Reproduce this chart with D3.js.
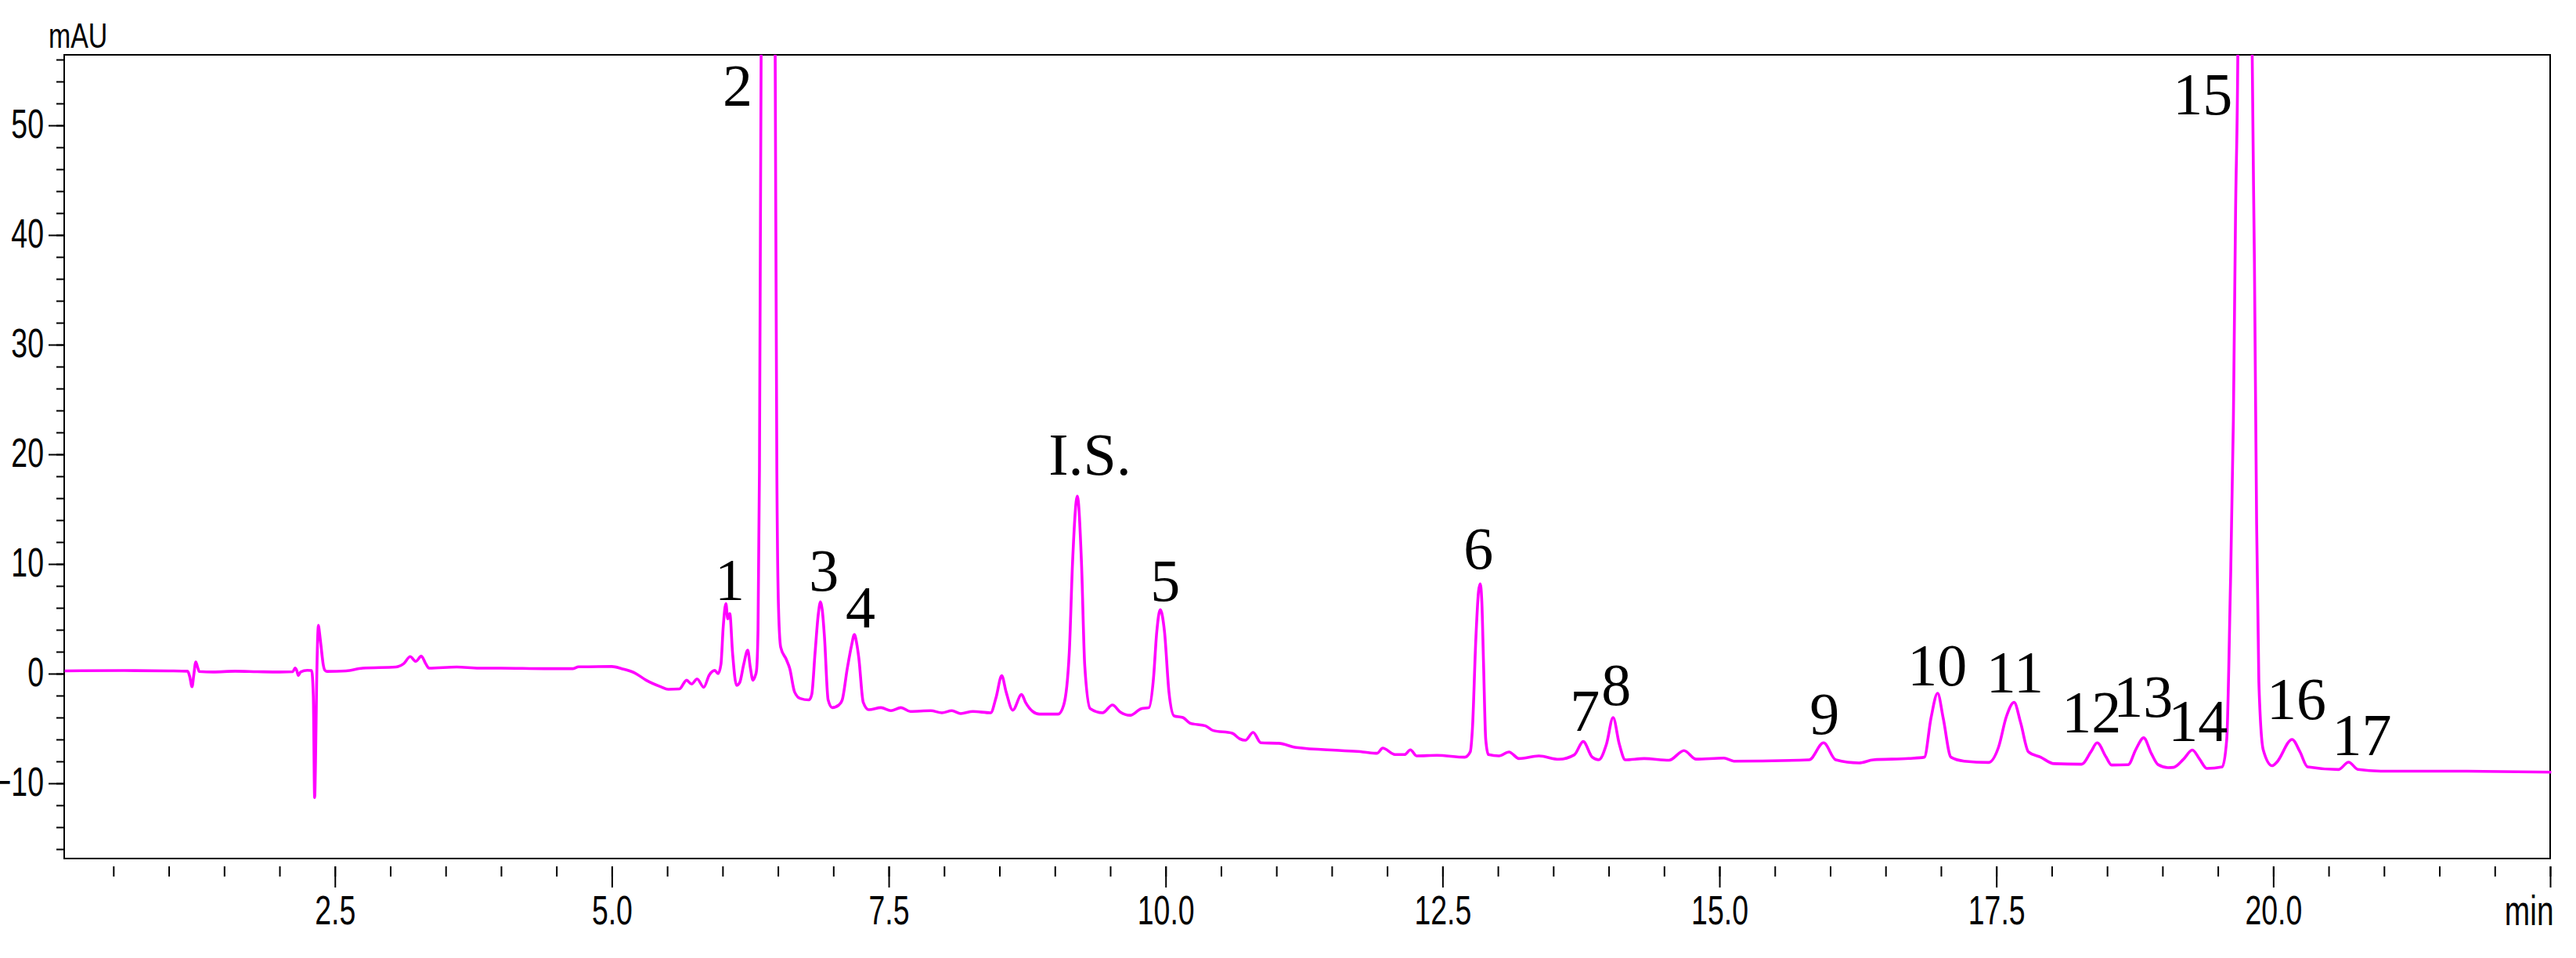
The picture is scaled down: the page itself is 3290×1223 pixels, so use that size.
<!DOCTYPE html>
<html><head><meta charset="utf-8">
<script src="https://cdn.jsdelivr.net/npm/d3@7"></script>
<style>
html,body{margin:0;padding:0;background:#fff;}
svg{display:block;}
.ax text{font-family:"Liberation Sans",Arial,sans-serif;font-size:52px;fill:#000;}
.ax line{stroke:#000;stroke-width:2px;}
.ax path{display:none;}
.pl{font-family:"Liberation Serif","Times New Roman",serif;font-size:76px;fill:#000;}
</style></head>
<body>
<svg id="c" width="3290" height="1223"></svg>
<script>
// retention time (min)
const times = [0.06,0.60,1.00,1.17,1.19,1.21,1.225,1.244,1.26,1.275,1.40,1.60,1.80,2.00,2.12,2.14,2.155,2.17,2.19,2.25,2.29,2.305,2.317,2.325,2.335,2.345,2.352,2.36,2.375,2.395,2.41,2.43,2.60,2.75,3.05,3.12,3.18,3.23,3.28,3.32,3.35,3.60,3.80,4.00,4.39,4.65,4.70,5.00,5.09,5.21,5.31,5.44,5.51,5.61,5.675,5.72,5.77,5.83,5.88,5.93,5.96,5.985,6.006,6.03,6.047,6.065,6.09,6.126,6.154,6.19,6.227,6.25,6.274,6.295,6.306,6.32,6.333,6.348,6.36,6.41,6.46,6.475,6.49,6.505,6.525,6.575,6.606,6.65,6.70,6.78,6.805,6.835,6.865,6.884,6.90,6.92,6.953,6.99,7.05,7.08,7.126,7.165,7.19,7.21,7.23,7.27,7.32,7.43,7.52,7.61,7.695,7.88,7.98,8.07,8.15,8.26,8.42,8.47,8.52,8.56,8.62,8.70,8.735,8.80,8.86,9.03,9.08,9.13,9.16,9.203,9.24,9.27,9.32,9.43,9.52,9.59,9.68,9.78,9.85,9.89,9.92,9.951,9.99,10.03,10.077,10.156,10.22,10.36,10.43,10.60,10.67,10.72,10.79,10.86,11.02,11.18,11.59,11.78,11.91,11.96,12.07,12.157,12.21,12.265,12.45,12.70,12.75,12.77,12.80,12.825,12.84,12.855,12.87,12.89,12.914,13.01,13.10,13.19,13.37,13.55,13.69,13.77,13.85,13.91,13.98,14.04,14.096,14.15,14.32,14.545,14.68,14.79,15.04,15.13,15.81,15.94,16.05,16.26,16.39,16.71,16.85,16.91,16.97,17.02,17.09,17.21,17.43,17.52,17.59,17.66,17.72,17.79,17.90,18.02,18.27,18.355,18.41,18.49,18.54,18.69,18.76,18.83,18.90,18.96,19.05,19.10,19.19,19.27,19.335,19.40,19.54,19.58,19.61,19.64,19.66,19.68,19.70,19.745,19.79,19.81,19.83,19.85,19.87,19.91,19.99,20.03,20.17,20.24,20.31,20.59,20.68,20.765,20.97,21.75,22.51];
// absorbance (mAU)
const signal = [0.25,0.28,0.25,0.22,-0.3,-1.2,-0.2,1.07,0.6,0.2,0.15,0.22,0.18,0.15,0.18,0.52,0.3,-0.17,0.15,0.3,0.28,-2,-11.3,-8,-1,3.5,4.4,3.8,2.5,0.8,0.3,0.2,0.25,0.5,0.6,0.9,1.55,1.12,1.6,0.9,0.5,0.6,0.5,0.5,0.45,0.45,0.62,0.65,0.45,0.05,-0.6,-1.19,-1.43,-1.4,-0.6,-0.95,-0.48,-1.24,-0.12,0.29,0.0,0.83,4.3,6.38,5.0,5.48,1.9,-1.07,-0.83,0.8,2.14,0.6,-0.6,-0.2,0.24,4,18.6,56.4,95,250,95,56.4,18.6,6,2.4,1.3,0.48,-1.67,-2.26,-2.4,-1.9,1.9,5.5,6.55,5.8,3.33,-2.4,-3.1,-2.86,-2.4,0.48,2.6,3.57,2.8,1.43,-2.62,-3.29,-3.1,-3.38,-3.1,-3.45,-3.38,-3.57,-3.38,-3.64,-3.45,-3.57,-2.14,-0.19,-1.67,-3.33,-1.9,-2.62,-3.45,-3.69,-3.69,-2.86,1.9,10.2,16.2,10.2,0.71,-3.2,-3.57,-2.86,-3.5,-3.8,-3.2,-3.1,-0.48,3.81,5.83,3.81,-1.67,-3.86,-4.0,-4.52,-4.76,-5.19,-5.43,-5.95,-6.07,-5.36,-6.31,-6.35,-6.74,-7.02,-7.14,-7.26,-6.79,-7.38,-7.38,-6.95,-7.5,-7.45,-7.62,-7.14,-5,3,7.5,8.2,6.5,1,-6,-7.38,-7.5,-7.14,-7.74,-7.5,-7.81,-7.4,-6.19,-7.6,-7.86,-6.43,-4.0,-6.43,-7.86,-7.74,-7.9,-7.02,-7.8,-7.7,-7.98,-7.86,-6.31,-7.86,-8.14,-7.86,-7.74,-7.62,-4.05,-1.79,-4.05,-7.62,-7.98,-8.1,-6.7,-3.93,-2.62,-4.5,-7.14,-7.62,-8.21,-8.26,-7.1,-6.31,-7.6,-8.33,-8.31,-6.9,-5.85,-7.3,-8.3,-8.57,-8.55,-7.8,-6.97,-7.8,-8.64,-8.5,-6.0,6.4,23.2,42.3,56.4,95,250,95,56.4,37.5,13.6,-0.75,-6.97,-8.4,-8.1,-6.0,-7.1,-8.5,-8.74,-8.07,-8.74,-8.89,-8.9,-8.98];
// peak annotations: label, label centre (min), label baseline (mAU)
const peakLabels = ["1","2","3","4","I.S.","5","6","7","8","9","10","11","12","13","14","15","16","17"];
const labelTimes = [6.065,6.136,6.914,7.246,9.317,9.996,12.824,13.785,14.068,15.949,16.967,17.667,18.36,18.826,19.32,19.363,20.21,20.80];
const labelLevels = [6.71,51.8,7.57,4.21,18.14,6.64,9.57,-5.21,-2.86,-5.5,-1.07,-1.71,-5.36,-3.93,-6.14,51.0,-4.14,-7.43];
// axis ticks
const xMajorTicks = [2.5,5.0,7.5,10.0,12.5,15.0,17.5,20.0,22.5];
const yMajorTicks = [-10,0,10,20,30,40,50];
const xUnit = "min", yUnit = "mAU";

const L=82, R=3257, T=70, B=1096;
const NARROW = 0.72; // horizontal condensing of the axis font
const svg = d3.select("#c");
const x = d3.scaleLinear().domain([0.056,22.5]).range([L,R]);
const y = d3.scaleLinear().domain([-16.86,56.43]).range([B,T]);

svg.append("defs").append("clipPath").attr("id","clip")
  .append("rect").attr("x",L).attr("y",T).attr("width",R-L+4).attr("height",B-T);

// y axis
const yMinor = d3.range(-16,57,2);
svg.append("g").attr("class","ax").attr("transform",`translate(${L},0)`)
  .call(d3.axisLeft(y).tickValues(yMinor).tickSize(10).tickFormat(""));
svg.append("g").attr("class","ax").attr("transform",`translate(${L},0)`)
  .call(d3.axisLeft(y).tickValues(yMajorTicks).tickSize(20).tickPadding(6).tickFormat(d3.format("d")))
  .selectAll("text").attr("dy","0.30em")
  .attr("transform",`scale(${NARROW},1)`).attr("x",-26/NARROW);

// x axis
const xMinor = d3.range(0.5,22.51,0.5);
svg.append("g").attr("class","ax").attr("transform",`translate(0,${B+10})`)
  .call(d3.axisBottom(x).tickValues(xMinor).tickSize(13).tickFormat(""));
const gx = svg.append("g").attr("class","ax").attr("transform",`translate(0,${B+10})`)
  .call(d3.axisBottom(x).tickValues(xMajorTicks).tickSize(27).tickPadding(10)
    .tickFormat(d => d===22.5 ? xUnit : d3.format(".1f")(d)));
gx.selectAll("text").attr("transform",`scale(${NARROW},1)`);
gx.selectAll("text").filter(d => d===22.5).attr("text-anchor","end").attr("x",4/NARROW)
  .style("font-size","54px");

// frame
svg.append("rect").attr("x",L).attr("y",T).attr("width",R-L).attr("height",B-T)
  .attr("fill","none").attr("stroke","#000").attr("stroke-width",2);

// unit label
svg.append("text").attr("transform",`translate(62,61) scale(0.77,1)`)
  .attr("font-family",'"Liberation Sans",Arial,sans-serif')
  .attr("font-size",44).text(yUnit);

// trace
const pts = times.map((t,i)=>[t,signal[i]]);
svg.append("path").datum(pts).attr("clip-path","url(#clip)")
  .attr("fill","none").attr("stroke","#ff00ff").attr("stroke-width",3.6).attr("stroke-linejoin","round")
  .attr("d", d3.line().x(d=>x(d[0])).y(d=>y(d[1])).curve(d3.curveMonotoneX));

// peak labels
svg.append("g").selectAll("text").data(peakLabels).join("text").attr("class","pl")
  .attr("text-anchor","middle")
  .attr("x",(d,i)=>x(labelTimes[i])).attr("y",(d,i)=>y(labelLevels[i])).text(d=>d);
</script>
</body></html>
